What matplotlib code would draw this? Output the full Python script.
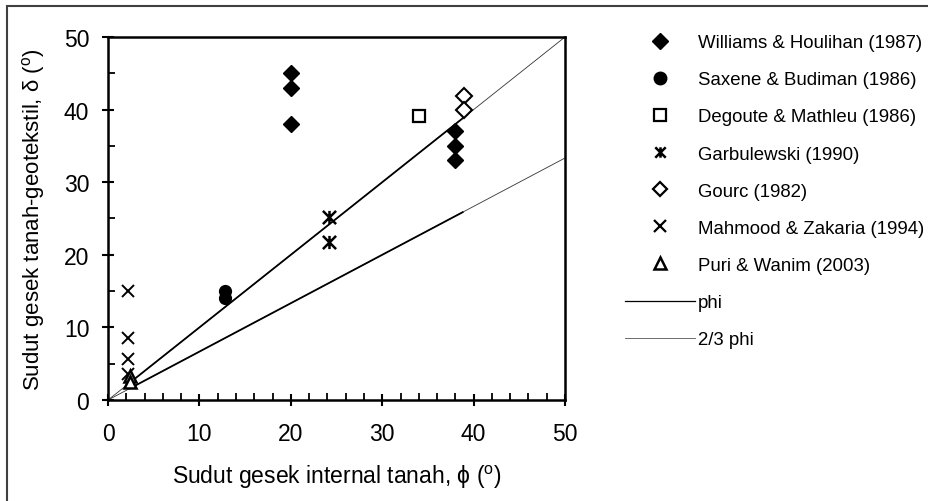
import numpy as np
import matplotlib
matplotlib.use("Agg")
import matplotlib.pyplot as plt
from matplotlib.path import Path
from matplotlib.lines import Line2D
from matplotlib.patches import Rectangle

plt.rcParams["font.family"] = ["Liberation Sans", "DejaVu Sans"]
plt.rcParams["mathtext.fontset"] = "custom"
plt.rcParams["mathtext.rm"] = "Liberation Sans"

# data
williams_x = [20, 20, 20, 38, 38, 38]
williams_y = [45, 43, 38, 37, 35, 33]
saxene_x = [12.8, 12.8]
saxene_y = [15.0, 14.0]
degoute_x = [34.0]
degoute_y = [39.1]
garbul_x = [24.2, 24.2]
garbul_y = [25.2, 21.8]
gourc_x = [39.0, 39.0]
gourc_y = [41.9, 40.0]
mahmood_x = [2.2, 2.2, 2.2, 2.2]
mahmood_y = [15.0, 8.6, 5.6, 3.6]
puri_x = [2.4, 2.4]
puri_y = [3.3, 2.5]

line_x = [0, 50]
seg_x = [2.4, 38.8]

labels = ["Williams & Houlihan (1987)", "Saxene & Budiman (1986)",
          "Degoute & Mathleu (1986)", "Garbulewski (1990)", "Gourc (1982)",
          "Mahmood & Zakaria (1994)", "Puri & Wanim (2003)", "phi", "2/3 phi"]

# star marker: X plus vertical bar
star = Path([(-1, -1), (1, 1), (-1, 1), (1, -1), (0, -1), (0, 1)],
            [Path.MOVETO, Path.LINETO, Path.MOVETO, Path.LINETO, Path.MOVETO, Path.LINETO])

fig = plt.figure(figsize=(9.29, 5.02), dpi=100)
ax = fig.add_axes([0.1163, 0.2012, 0.4919, 0.7231])

# reference lines
ax.plot(line_x, [v for v in line_x], color="#333333", lw=0.6, zorder=1)
ax.plot(line_x, [v * 2 / 3 for v in line_x], color="#333333", lw=0.6, zorder=1)
ax.plot(seg_x, [v for v in seg_x], color="black", lw=1.3, zorder=1)
ax.plot(seg_x, [v * 2 / 3 for v in seg_x], color="black", lw=1.3, zorder=1)

ax.plot(williams_x, williams_y, ls="none", marker="D", ms=8.5, color="black", zorder=3)
ax.plot(saxene_x, saxene_y, ls="none", marker="o", ms=8.5, color="black", zorder=3)
ax.plot(degoute_x, degoute_y, ls="none", marker="s", ms=8.5, mfc="white", mec="black", mew=1.6, zorder=3)
ax.plot(garbul_x, garbul_y, ls="none", marker=star, ms=9.5, color="black", mew=1.8, zorder=3)
ax.plot(gourc_x, gourc_y, ls="none", marker="D", ms=8, mfc="white", mec="black", mew=1.5, zorder=3)
ax.plot(mahmood_x, mahmood_y, ls="none", marker="x", ms=8, color="black", mew=1.4, zorder=3)
ax.plot(puri_x, puri_y, ls="none", marker="^", ms=9, mfc="white", mec="black", mew=1.8, zorder=4)

ax.set_xlim(0, 50)
ax.set_ylim(0, 50)
ax.set_xticks(np.arange(0, 51, 10))
ax.set_yticks(np.arange(0, 51, 10))
ax.set_xticks(np.arange(0, 51, 2), minor=True)
ax.set_yticks(np.arange(0, 51, 5), minor=True)
ax.tick_params(which="major", direction="inout", length=9, width=1.5, labelsize=16.5, colors="black")
ax.tick_params(axis="x", which="major", pad=11)
ax.tick_params(axis="y", which="major", pad=9)
ax.tick_params(which="minor", direction="in", length=5, width=1.3)
for s in ax.spines.values():
    s.set_linewidth(1.8)

ax.set_xlabel(r"Sudut gesek internal tanah, ϕ ($^{\mathrm{o}}$)", fontsize=16.5, labelpad=13)
ax.set_ylabel(r"Sudut gesek tanah-geotekstil, δ ($^{\mathrm{o}}$)", fontsize=16, labelpad=12)

handles = [
    Line2D([], [], ls="none", marker="D", ms=8, color="black"),
    Line2D([], [], ls="none", marker="o", ms=9, color="black"),
    Line2D([], [], ls="none", marker="s", ms=8, mfc="white", mec="black", mew=1.6),
    Line2D([], [], ls="none", marker=star, ms=7.5, color="black", mew=1.8),
    Line2D([], [], ls="none", marker="D", ms=7, mfc="white", mec="black", mew=1.6),
    Line2D([], [], ls="none", marker="x", ms=8, color="black", mew=1.6),
    Line2D([], [], ls="none", marker="^", ms=8, mfc="white", mec="black", mew=1.8),
    Line2D([], [], color="black", lw=0.9),
    Line2D([], [], color="#555555", lw=0.6),
]
fig.legend(handles, labels, loc="upper left", bbox_to_anchor=(0.6728, 0.930),
           frameon=False, fontsize=13.4, handlelength=3.76, handletextpad=0.16,
           labelspacing=1.08, borderpad=0, borderaxespad=0)

# figure border (open on right and bottom, as in the source)
fig.patches.append(Rectangle((7 / 929, -0.1), 1.2, 1.1 - 7 / 502,
                             transform=fig.transFigure, fill=False,
                             edgecolor="#404040", lw=1.5))

fig.savefig("out.png", dpi=100)
